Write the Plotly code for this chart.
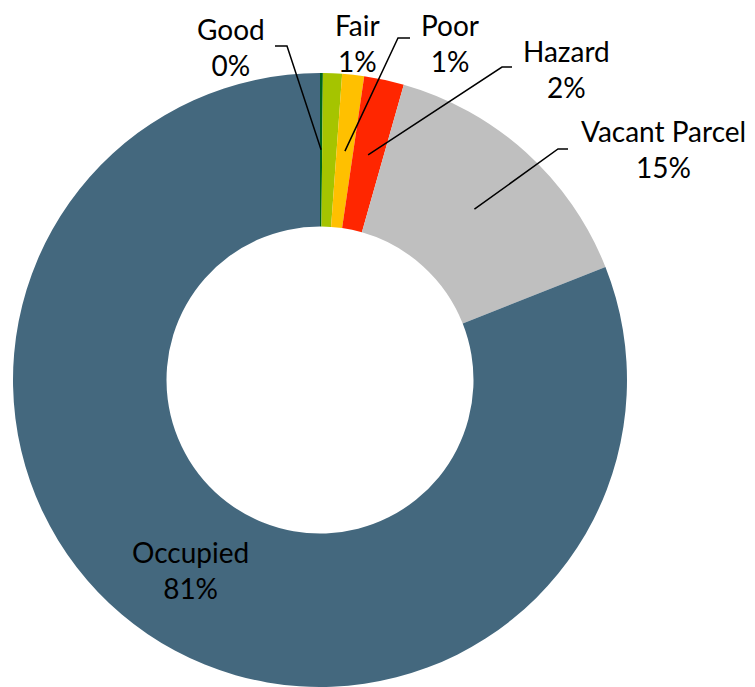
import math
import plotly.graph_objects as go

# ---- data ----
categories = ["Good", "Fair", "Poor", "Hazard", "Vacant Parcel", "Occupied"]
values = [0.15, 1.0, 1.15, 2.1, 14.6, 81.0]
colors = ["#00641E", "#A5C400", "#FFC000", "#FF2600", "#BFBFBF", "#44687E"]

# ---- layout / style (pixel geometry in page coordinates) ----
PAGE_OFF = 8  # default body margin of the html page
W, H = 755 - PAGE_OFF, 687 - PAGE_OFF
CX, CY, R = 320, 380, 307
HOLE = 0.5
FONT = dict(family="Lato, Calibri, 'Open Sans', sans-serif", size=28, color="black")

# label block centres (page pixels); None = inside slice
label_pos = {
    "Good": (231, 47),
    "Fair": (357, 43),
    "Poor": (450, 43),
    "Hazard": (566, 69),
    "Vacant Parcel": (663, 149),
    "Occupied": None,
}
# leader-line start / elbow (page pixels); None = no leader
leader = {
    "Good": ((275, 46), (287, 46)),
    "Fair": None,
    "Poor": ((410, 38), (398, 38)),
    "Hazard": ((512, 67), (502, 67)),
    "Vacant Parcel": ((568, 149), (558, 149)),
    "Occupied": None,
}


def px(x):
    return (x - PAGE_OFF) / W


def py(y):
    return 1 - (y - PAGE_OFF) / H


fig = go.Figure(
    go.Pie(
        labels=categories,
        values=values,
        marker=dict(colors=colors, line=dict(width=0)),
        hole=HOLE,
        sort=False,
        direction="clockwise",
        rotation=0,
        textinfo="none",
        hoverinfo="label+percent",
        domain=dict(x=[px(CX - R), px(CX + R)], y=[max(0, py(CY + R)), py(CY - R)]),
        showlegend=False,
    )
)

total = sum(values)
cum = 0.0
r_mid = R * (1 + HOLE) / 2
annotations = []
shapes = []
for cat, v in zip(categories, values):
    frac_mid = (cum + v / 2) / total
    cum += v
    theta = 2 * math.pi * frac_mid
    mx = CX + r_mid * math.sin(theta)
    my = CY - r_mid * math.cos(theta)
    pct = f"{round(v / total * 100)}%"
    text = f"{cat}<br>{pct}"
    pos = label_pos[cat]
    if pos is None:
        pos = (mx, my)
    annotations.append(
        dict(
            x=px(pos[0]), y=py(pos[1]), xref="paper", yref="paper",
            text=text, showarrow=False, xanchor="center", yanchor="middle",
            font=FONT, align="center", borderpad=0,
        )
    )
    ld = leader[cat]
    if ld is not None:
        (sx, sy), (ex, ey) = ld
        path = f"M {px(sx)} {py(sy)} L {px(ex)} {py(ey)} L {px(mx)} {py(my)}"
        shapes.append(dict(type="path", path=path, xref="paper", yref="paper",
                           line=dict(color="black", width=1.5)))

fig.update_layout(
    width=W, height=H,
    margin=dict(l=0, r=0, t=0, b=0),
    paper_bgcolor="white",
    plot_bgcolor="white",
    annotations=annotations,
    shapes=shapes,
)

fig.write_html("out.html")
